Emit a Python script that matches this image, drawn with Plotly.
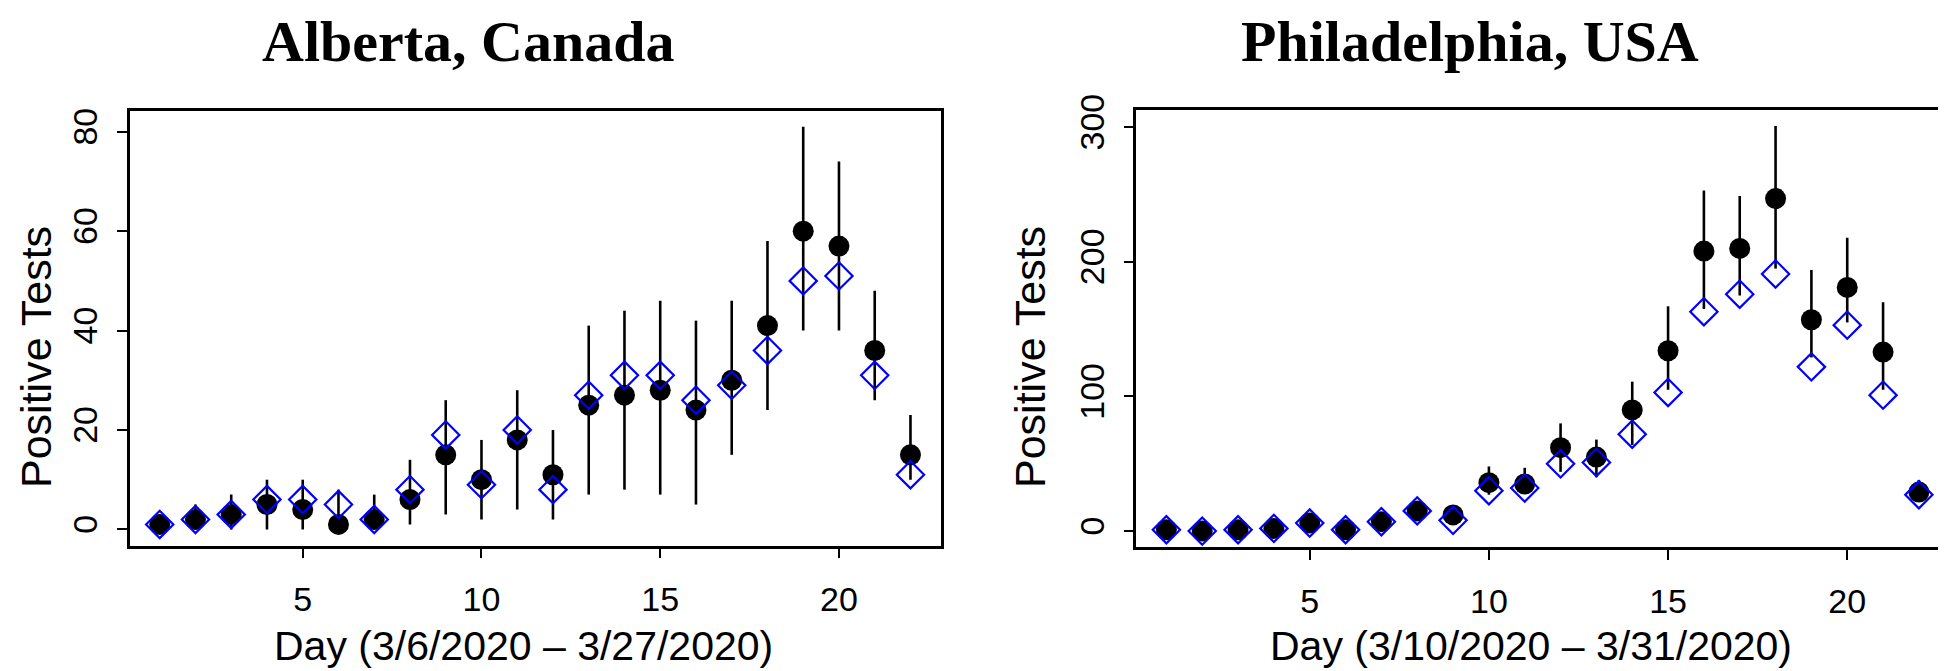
import plotly.graph_objects as go

W, H = 1946, 671

days = list(range(1, 23))

# Alberta, Canada
ab_obs = [1, 2, 3, 5, 4, 1, 2, 6, 15, 10, 18, 11, 25, 27, 28, 24, 30, 41, 60, 57, 36, 15]
ab_pred = [1, 2, 3, 6, 6, 5, 2, 8, 19, 9, 20, 8, 27, 31, 31, 26, 29, 36, 50, 51, 31, 11]
ab_lo = [0, 0, 0, 0, 0, 1, 0, 1, 3, 2, 4, 2, 7, 8, 7, 5, 15, 24, 40, 40, 26, 10]
ab_hi = [3, 5, 7, 10, 10, 8, 7, 14, 26, 18, 28, 20, 41, 44, 46, 42, 46, 58, 81, 74, 48, 23]

# Philadelphia, USA
ph_obs = [1, 0, 1, 2, 6, 1, 7, 15, 12, 36, 35, 62, 55, 90, 134, 208, 210, 247, 157, 181, 133, 29]
ph_pred = [1, 0, 1, 2, 6, 1, 7, 15, 8, 30, 32, 50, 51, 72, 103, 163, 176, 191, 122, 153, 101, 27]
ph_lo = [0, 0, 0, 0, 1, 0, 2, 8, 5, 27, 29, 44, 40, 64, 105, 165, 175, 195, 129, 155, 105, 24]
ph_hi = [3, 2, 3, 5, 10, 3, 12, 22, 18, 48, 47, 80, 68, 111, 167, 253, 249, 301, 194, 218, 170, 38]

titles = ["Alberta, Canada", "Philadelphia, USA"]
xlabels = ["Day (3/6/2020 \u2013 3/27/2020)", "Day (3/10/2020 \u2013 3/31/2020)"]
ylabel = "Positive Tests"
x_ticks = [5, 10, 15, 20]
ab_yticks = [0, 20, 40, 60, 80]
ph_yticks = [0, 100, 200, 300]

fig = go.Figure()


def add_panel(obs, pred, lo, hi, xa, ya):
    bx, by = [], []
    for d, l, h in zip(days, lo, hi):
        bx += [d, d, None]
        by += [l, h, None]
    fig.add_trace(go.Scatter(x=bx, y=by, mode="lines", xaxis=xa, yaxis=ya,
                             line=dict(color="black", width=2.6), showlegend=False,
                             hoverinfo="skip"))
    fig.add_trace(go.Scatter(x=days, y=obs, mode="markers", xaxis=xa, yaxis=ya,
                             marker=dict(symbol="circle", size=21, color="black",
                                         line=dict(width=0)),
                             showlegend=False))
    fig.add_trace(go.Scatter(x=days, y=pred, mode="markers", xaxis=xa, yaxis=ya,
                             marker=dict(symbol="diamond-open", size=21, color="#0000ff",
                                         line=dict(width=2.2, color="#0000ff")),
                             showlegend=False))


add_panel(ab_obs, ab_pred, ab_lo, ab_hi, "x", "y")
add_panel(ph_obs, ph_pred, ph_lo, ph_hi, "x2", "y2")


def pad(lo, hi):
    r = hi - lo
    return [lo - 0.04 * r, hi + 0.04 * r]


tickfont = dict(family="Liberation Sans, Arial, sans-serif", size=34, color="black")
axcommon = dict(showline=True, mirror=True, linecolor="black", linewidth=2.5,
                ticks="outside", ticklen=10, tickwidth=2, tickcolor="black",
                showgrid=False, zeroline=False, tickfont=tickfont, automargin=False)

fig.update_layout(
    template="none",
    width=W, height=H,
    margin=dict(l=0, r=0, t=0, b=0, pad=0),
    paper_bgcolor="white", plot_bgcolor="white",
    xaxis=dict(domain=[121.7 / W, 932.5 / W], range=pad(1, 22), tickvals=x_ticks,
               anchor="y", ticklabelstandoff=12, **axcommon),
    yaxis=dict(domain=[1 - 537.5 / H, 1 - 102.7 / H], range=pad(min(ab_lo), max(ab_hi)),
               tickvals=ab_yticks, tickangle=-90, anchor="x", ticklabelstandoff=6,
               **axcommon),
    xaxis2=dict(domain=[1128.3 / W, 1941 / W], range=pad(1, 22), tickvals=x_ticks,
                anchor="y2", ticklabelstandoff=12, **axcommon),
    yaxis2=dict(domain=[1 - 539.3 / H, 1 - 101.7 / H], range=pad(min(ph_lo), max(ph_hi)),
                tickvals=ph_yticks, tickangle=-90, anchor="x2", ticklabelstandoff=6,
                **axcommon),
)

titlefont = dict(family="Liberation Serif, Times New Roman, serif", size=58, color="black")
labfont = dict(family="Liberation Sans, Arial, sans-serif", size=41, color="black")
ylabfont = dict(family="Liberation Sans, Arial, sans-serif", size=43, color="black")

ann = []
for i, (t, xl) in enumerate(zip(titles, xlabels)):
    xr = "x domain" if i == 0 else "x2 domain"
    ann.append(dict(text="<b>%s</b>" % t, x=[460 / W, 1462 / W][i], xref="paper",
                    y=1, yref="paper", showarrow=False, font=titlefont,
                    xanchor="center", yanchor="top", borderpad=0))
    ann.append(dict(text=xl, x=0.5, xref=xr, xshift=-12, y=1 - 638 / H, yref="paper",
                    showarrow=False, font=labfont, xanchor="center", yanchor="middle"))
    ann.append(dict(text=ylabel, x=[28 / W, 1022 / W][i], xref="paper",
                    y=1 - 349 / H, yref="paper", borderpad=0,
                    showarrow=False, font=ylabfont, textangle=-90,
                    xanchor="center", yanchor="middle"))
fig.update_layout(annotations=ann)

fig.write_html("out.html")
